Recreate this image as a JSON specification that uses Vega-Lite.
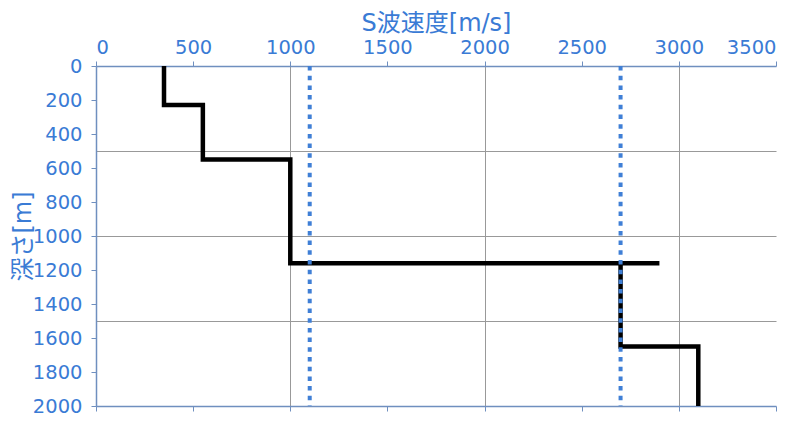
{
  "$schema": "https://vega.github.io/schema/vega-lite/v6.json",
  "autosize": "none",
  "width": 680,
  "height": 340,
  "padding": {"left": 96, "top": 66, "right": 33, "bottom": 17},
  "background": "white",
  "datasets": {
    "profile": [
      {"i": 1, "v": 350, "depth": 0},
      {"i": 2, "v": 350, "depth": 230},
      {"i": 3, "v": 550, "depth": 230},
      {"i": 4, "v": 550, "depth": 550},
      {"i": 5, "v": 1000, "depth": 550},
      {"i": 6, "v": 1000, "depth": 1160},
      {"i": 7, "v": 2900, "depth": 1160},
      {"i": 8, "v": 2700, "depth": 1160},
      {"i": 9, "v": 2700, "depth": 1650},
      {"i": 10, "v": 3100, "depth": 1650},
      {"i": 11, "v": 3100, "depth": 2000}
    ],
    "marks": [
      {"v": 1100},
      {"v": 2700}
    ]
  },
  "layer": [
    {
      "data": {"name": "profile"},
      "mark": {"type": "line", "color": "black", "strokeWidth": 4.5, "strokeCap": "square", "strokeJoin": "miter", "clip": true},
      "encoding": {
        "x": {
          "field": "v",
          "type": "quantitative",
          "scale": {"domain": [0, 3500], "nice": false, "zero": false},
          "axis": {
            "orient": "top",
            "title": "S波速度[m/s]",
            "values": [0, 500, 1000, 1500, 2000, 2500, 3000, 3500],
            "format": "d",
            "grid": true,
            "gridColor": "#999999",
            "gridOpacity": {"condition": {"test": "datum.value % 1000 === 0 && datum.value > 0", "value": 1}, "value": 0},
            "labelPadding": 4,
            "titlePadding": 2
          }
        },
        "y": {
          "field": "depth",
          "type": "quantitative",
          "scale": {"domain": [0, 2000], "reverse": true, "nice": false},
          "axis": {
            "orient": "left",
            "title": "深さ[m]",
            "values": [0, 200, 400, 600, 800, 1000, 1200, 1400, 1600, 1800, 2000],
            "format": "d",
            "grid": false,
            "labelPadding": 9,
            "titlePadding": -3
          }
        },
        "order": {"field": "i"}
      }
    },
    {
      "data": {"name": "marks"},
      "mark": {"type": "rule", "color": "#3f7fd6", "strokeWidth": 4, "strokeDash": [4.5, 5.2]},
      "encoding": {
        "x": {
          "field": "v",
          "type": "quantitative",
          "axis": {
            "orient": "bottom",
            "title": null,
            "values": [0, 500, 1000, 1500, 2000, 2500, 3000, 3500],
            "labels": false,
            "grid": false
          }
        },
        "y": {
          "datum": 0,
          "type": "quantitative",
          "axis": {
            "orient": "left",
            "title": null,
            "values": [500, 1000, 1500],
            "labels": false,
            "ticks": false,
            "domain": false,
            "grid": true,
            "gridColor": "#999999"
          }
        },
        "y2": {"datum": 2000}
      }
    }
  ],
  "resolve": {"axis": {"x": "independent", "y": "independent"}},
  "config": {
    "view": {"stroke": null},
    "axis": {
      "labelFont": "DejaVu Sans",
      "labelFontSize": 19.5,
      "labelColor": "#3a7bd5",
      "titleFont": "DejaVu Sans, Noto Sans CJK JP",
      "titleFontSize": 24,
      "titleFontWeight": "normal",
      "titleColor": "#3a7bd5",
      "domainColor": "#6f8fbf",
      "domainWidth": 1.5,
      "tickColor": "#6f8fbf",
      "tickSize": 5,
      "gridWidth": 1
    }
  }
}
